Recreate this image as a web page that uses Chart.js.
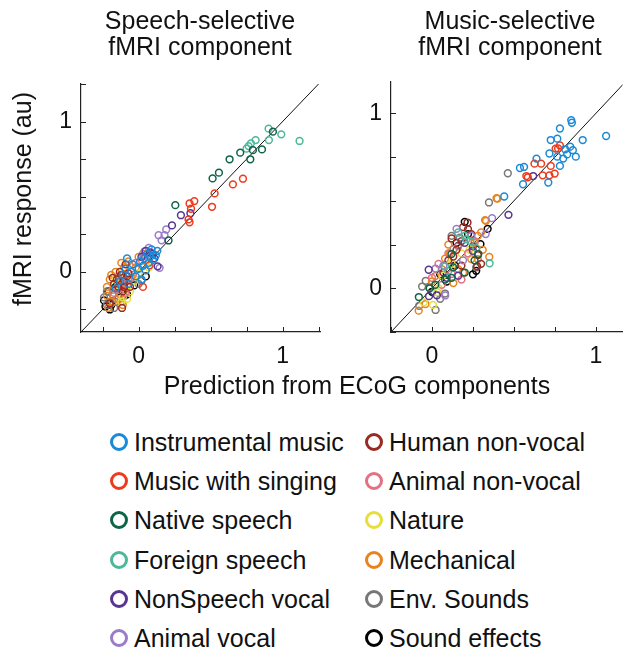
<!DOCTYPE html>
<html>
<head>
<meta charset="utf-8">
<script src="https://cdn.jsdelivr.net/npm/chart.js@4.4.0/dist/chart.umd.min.js"></script>
<style>
  body { margin: 0; width: 628px; height: 649px; background: #fff; position: relative; overflow: hidden;
         font-family: 'Liberation Sans', Arial, sans-serif; color: #111; }
  canvas { position: absolute; top: 0; }
  .txt { position: absolute; white-space: nowrap; font-size: 25px; line-height: 26px; }
  .ptitle { text-align: center; transform: translateX(-50%); }
  .legend-row { position: absolute; height: 26px; line-height: 26px; font-size: 25px; white-space: nowrap; }
  .ring { position: absolute; width: 18px; height: 18px; box-sizing: border-box; border-radius: 50%; border: 3.5px solid; top: 4px; }
  .legend-row span.lbl { position: absolute; top: 0; }
</style>
</head>
<body>
<canvas id="speechChart" width="330" height="400" style="left:0"></canvas>
<canvas id="musicChart" width="288" height="400" style="left:340px"></canvas>

<div class="txt ptitle" style="left:200px; top:7px">Speech-selective<br>fMRI component</div>
<div class="txt ptitle" style="left:510px; top:7px">Music-selective<br>fMRI component</div>
<div class="txt" style="left:22px; top:199px; transform: translate(-50%, -50%) rotate(-90deg)">fMRI response (au)</div>
<div class="txt" style="left:357px; top:385px; transform: translate(-50%, -50%)">Prediction from ECoG components</div>
<div id="legend"></div>

<script>
// Categorias de sonidos y sus colores
const categories = ['Instrumental music', 'Music with singing', 'Native speech', 'Foreign speech',
  'NonSpeech vocal', 'Animal vocal', 'Human non-vocal', 'Animal non-vocal', 'Nature',
  'Mechanical', 'Env. Sounds', 'Sound effects'];
const colors = ['#1a8ad6', '#ee3a1c', '#0e6446', '#4cb899', '#573592', '#9a7cc8',
  '#9a2a22', '#e27183', '#e6de3c', '#e8831e', '#777777', '#000000'];

// Valores del panel izquierdo (speech): [prediccion, respuesta fMRI] por categoria
const speechPoints = [
  [[-0.16,-0.11],[-0.13,-0.06],[-0.11,-0.02],[-0.09,0.02],[-0.07,-0.08],[-0.05,0.0],[-0.04,0.05],[-0.02,-0.03],[0.0,0.02],[0.01,0.07],[0.02,-0.05],[0.03,0.04],[0.04,0.09],[0.05,0.01],[0.06,0.12],[0.07,0.06],[0.08,0.1],[0.09,0.15],[0.1,0.08],[0.12,0.11],[0.13,0.14],[-0.08,0.09]],
  [[0.725,0.62],[0.655,0.582],[0.528,0.522],[0.51,0.433],[0.387,0.471],[0.354,0.455],[0.364,0.42],[0.347,0.349],[0.354,0.33],[0.076,0.044],[0.03,-0.1]],
  [[0.933,0.933],[0.857,0.815],[0.794,0.81],[0.776,0.749],[0.706,0.793],[0.632,0.749],[0.558,0.66],[0.514,0.622],[0.255,0.444],[0.208,0.209]],
  [[0.903,0.953],[0.991,0.915],[1.118,0.871],[0.905,0.877],[0.813,0.877],[0.78,0.855],[0.764,0.837],[0.75,0.82]],
  [[0.294,0.377],[0.36,0.39],[0.232,0.309],[0.05,0.14],[0.08,0.13],[0.1,0.12],[0.132,0.037],[0.11,0.09],[0.02,0.1]],
  [[0.139,0.244],[0.192,0.282],[0.18,0.244],[0.042,0.137],[0.035,0.104],[0.146,0.027],[0.16,0.21],[0.07,0.16]],
  [[-0.15,-0.05],[-0.12,-0.02],[-0.1,-0.06],[-0.08,-0.03],[-0.13,0.0],[-0.115,-0.24],[-0.2,-0.21],[-0.06,-0.1],[-0.1,-0.1],[-0.17,-0.08],[-0.14,-0.1],[-0.11,-0.13],[-0.07,-0.01],[-0.18,-0.04],[-0.09,0.05]],
  [[-0.12,-0.08],[-0.07,-0.05],[-0.15,-0.12],[-0.04,-0.02],[-0.09,-0.14],[-0.1,-0.04],[-0.17,-0.14],[-0.02,0.06],[-0.13,-0.07]],
  [[-0.11,-0.17],[0.07,0.03],[-0.06,-0.13],[-0.14,-0.09],[-0.03,-0.06],[-0.12,-0.2],[-0.16,-0.05],[0.0,-0.01],[-0.08,-0.18]],
  [[-0.22,-0.16],[-0.18,-0.12],[-0.2,-0.05],[-0.16,0.0],[-0.14,-0.03],[-0.1,0.03],[-0.07,0.07],[-0.05,-0.04],[0.0,0.1],[-0.18,-0.2],[-0.13,-0.15],[-0.09,-0.12],[0.03,0.12],[-0.22,-0.1],[-0.15,-0.18],[-0.02,0.03],[-0.21,-0.24],[-0.12,0.06],[-0.08,-0.09],[-0.19,-0.02],[0.05,0.07],[-0.11,-0.22]],
  [[-0.2,-0.2],[-0.17,-0.24],[-0.22,-0.22],[-0.14,-0.18],[-0.1,-0.08],[0.02,-0.06],[-0.18,-0.15],[-0.24,-0.17],[-0.16,-0.2],[-0.06,-0.05],[-0.22,-0.13],[0.0,-0.08],[-0.13,-0.11]],
  [[-0.24,-0.19],[-0.19,-0.22],[-0.12,-0.2],[-0.08,-0.15],[-0.16,-0.1],[0.05,-0.03],[-0.21,-0.13],[-0.2,-0.25],[-0.14,-0.13],[-0.03,-0.09],[-0.1,-0.16],[-0.23,-0.23]]
];

// Valores del panel derecho (music)
const musicPoints = [
  [[1.063,0.871],[0.85,0.962],[0.854,0.947],[0.781,0.914],[0.92,0.848],[0.765,0.856],[0.725,0.848],[0.844,0.81],[0.813,0.795],[0.825,0.766],[0.878,0.753],[0.801,0.742],[0.765,0.753],[0.781,0.7],[0.717,0.771],[0.638,0.742],[0.562,0.694],[0.537,0.688],[0.556,0.595],[0.71,0.605],[0.441,0.525],[0.86,0.79]],
  [[0.755,0.799],[0.781,0.817],[0.626,0.713],[0.666,0.713],[0.725,0.7],[0.576,0.642],[0.676,0.646],[0.749,0.656],[0.717,0.646],[0.585,0.635],[0.77,0.8]],
  [[-0.08,-0.05],[-0.014,0.0],[0.119,0.196],[0.2,0.09],[0.283,0.196],[0.13,0.12],[0.12,0.06],[0.02,0.02],[0.26,0.16],[0.08,0.05]],
  [[0.352,0.143],[0.235,0.27],[0.2,0.3],[0.16,0.319],[0.08,0.125],[0.21,0.28],[0.1,0.1],[0.27,0.23]],
  [[0.618,0.642],[0.467,0.42],[-0.02,0.106],[-0.018,-0.045],[0.16,0.072],[0.25,0.214],[0.03,-0.04],[0.09,0.06],[0.2,0.26]],
  [[0.367,0.401],[0.328,0.31],[0.022,0.113],[0.081,-0.041],[0.15,0.34],[0.24,0.3],[0.07,0.13],[0.19,0.16]],
  [[0.217,0.376],[0.22,0.338],[0.276,0.125],[0.12,0.285],[0.13,0.182],[0.18,0.13],[0.19,0.35],[0.25,0.24],[0.1,0.16],[0.3,0.14],[0.24,0.31],[0.15,0.22],[0.28,0.19],[0.07,0.09],[0.18,0.27]],
  [[0.12,0.082],[0.16,0.24],[0.06,0.02],[0.22,0.2],[0.04,0.14],[0.1,0.2],[0.26,0.27],[0.0,0.06],[0.18,0.05]],
  [[0.22,0.196],[0.065,0.072],[0.032,-0.022],[0.006,-0.095],[0.23,0.22],[0.12,0.14],[0.18,0.2],[0.04,0.0],[-0.05,-0.08]],
  [[0.4,0.513],[0.33,0.386],[0.394,0.515],[0.324,0.39],[0.28,0.3],[0.35,0.18],[0.28,0.167],[0.08,0.17],[0.06,0.11],[0.16,0.11],[0.24,0.167],[-0.081,-0.128],[0.0,0.04],[0.11,0.2],[0.3,0.32],[0.13,0.03],[0.02,0.07],[0.19,0.09],[0.26,0.26],[-0.04,-0.09],[0.1,0.25],[0.31,0.22]],
  [[0.463,0.658],[0.348,0.491],[0.131,0.224],[-0.038,0.043],[-0.018,0.005],[0.022,-0.124],[-0.078,-0.1],[0.08,-0.03],[0.17,0.29],[0.05,-0.06],[0.12,0.3],[0.27,0.12],[-0.06,0.01]],
  [[0.34,0.34],[0.296,0.253],[0.16,0.243],[0.09,0.039],[0.2,0.38],[0.15,0.26],[0.27,0.1],[0.05,0.08],[0.22,0.31],[0.14,0.13],[0.0,-0.02],[0.25,0.08]]
];

// Etiquetas de los ejes (solo 0 y 1, marcas cada 0.25)
const tickLabels = { 0: '0', 1: '1' };
const tickStep = 0.25;

// Limites de los ejes de cada panel
const speechXRange = [-0.4, 1.26];
const speechYRange = [-0.4, 1.25];
const musicXRange = [-0.25, 1.163];
const musicYRange = [-0.25, 1.18];

const FONT = "'Liberation Sans', Arial, sans-serif";

// Marcas de eje hacia adentro (estilo MATLAB)
const inwardTicks = {
  id: 'inwardTicks',
  afterDatasetsDraw(chart) {
    const { ctx, chartArea: area } = chart;
    const xs = chart.scales.x, ys = chart.scales.y;
    const isStep = v => Math.abs(v / tickStep - Math.round(v / tickStep)) < 1e-6;
    ctx.save();
    ctx.strokeStyle = '#222';
    ctx.lineWidth = 1;
    ctx.beginPath();
    xs.ticks.forEach(t => {
      if (!isStep(t.value)) return;
      const px = Math.round(xs.getPixelForValue(t.value)) + 0.5;
      ctx.moveTo(px, area.bottom);
      ctx.lineTo(px, area.bottom - 5);
    });
    ys.ticks.forEach(t => {
      if (!isStep(t.value)) return;
      const py = Math.round(ys.getPixelForValue(t.value)) + 0.5;
      ctx.moveTo(area.left, py);
      ctx.lineTo(area.left + 5, py);
    });
    ctx.stroke();
    ctx.restore();
  }
};

function axis(range, isX) {
  return {
    type: 'linear',
    min: range[0],
    max: range[1],
    grid: { display: false, drawTicks: false, tickLength: 0 },
    border: { display: true, color: '#222', width: 1.2 },
    ticks: {
      stepSize: tickStep,
      includeBounds: false,
      autoSkip: false,
      maxRotation: 0,
      padding: isX ? 11 : 9,
      color: '#111',
      font: { family: FONT, size: 23 },
      callback: v => tickLabels[v] !== undefined ? tickLabels[v] : ''
    },
    afterFit(scale) {
      if (isX) scale.height = 68; else scale.width = 40;
    }
  };
}

function crearPanel(id, points, xRange, yRange, padding) {
  const datasets = categories.map((name, i) => ({
    label: name,
    data: points[i].map(p => ({ x: p[0], y: p[1] })),
    borderColor: colors[i],
    backgroundColor: 'rgba(0,0,0,0)',
    borderWidth: 1.5,
    pointRadius: 3.4,
    showLine: false,
    order: 1
  }));

  // Linea identidad y = x
  const lo = Math.min(xRange[0], yRange[0]);
  const hi = Math.max(xRange[1], yRange[1]);
  datasets.push({
    label: 'y = x',
    data: [{ x: lo, y: lo }, { x: hi, y: hi }],
    showLine: true,
    borderColor: '#111',
    borderWidth: 1,
    pointRadius: 0,
    clip: 0,
    order: 2
  });

  return new Chart(document.getElementById(id), {
    type: 'scatter',
    data: { datasets },
    options: {
      responsive: false,
      animation: false,
      devicePixelRatio: 1,
      layout: { padding },
      plugins: { legend: { display: false }, tooltip: { enabled: false } },
      scales: { x: axis(xRange, true), y: axis(yRange, false) }
    },
    plugins: [inwardTicks]
  });
}

crearPanel('speechChart', speechPoints, speechXRange, speechYRange, { left: 41, top: 84, right: 10, bottom: 0 });
crearPanel('musicChart', musicPoints, musicXRange, musicYRange, { left: 11, top: 82, right: 0, bottom: 0 });

// Leyenda en dos columnas
const legend = document.getElementById('legend');
const legendCols = [119, 374];
const legendTop = 442;
const legendStep = 39.2;
categories.forEach((name, i) => {
  const col = Math.floor(i / 6);
  const row = i % 6;
  const div = document.createElement('div');
  div.className = 'legend-row';
  div.style.left = (legendCols[col] - 9) + 'px';
  div.style.top = (legendTop + row * legendStep - 13) + 'px';
  const ring = document.createElement('div');
  ring.className = 'ring';
  ring.style.borderColor = colors[i];
  const lbl = document.createElement('span');
  lbl.className = 'lbl';
  lbl.textContent = name;
  lbl.style.left = '24px';
  div.appendChild(ring);
  div.appendChild(lbl);
  legend.appendChild(div);
});
</script>
</body>
</html>
